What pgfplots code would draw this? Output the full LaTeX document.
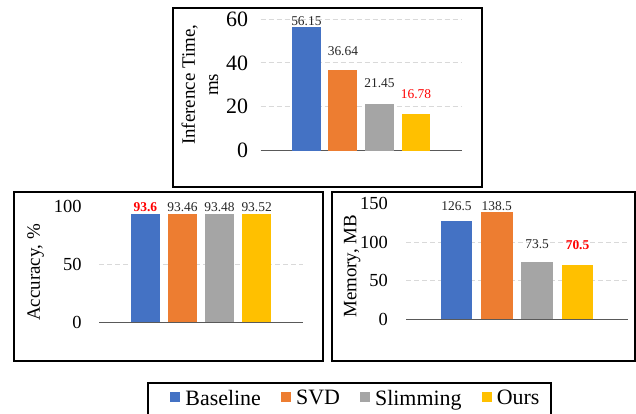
\documentclass[border=0pt]{standalone}
\usepackage{fontspec}
\setmainfont{Liberation Serif}
\usepackage{pgfplots}
\pgfplotsset{compat=1.18}

\definecolor{cBase}{HTML}{4472C4}
\definecolor{cSVD}{HTML}{ED7D31}
\definecolor{cSlim}{HTML}{A5A5A5}
\definecolor{cOurs}{HTML}{FFC000}
\definecolor{gridgray}{HTML}{D9D9D9}
\definecolor{axisgray}{HTML}{595959}
\definecolor{lblgray}{HTML}{262626}
\definecolor{hilite}{HTML}{FF0000}

\pgfplotsset{
  panel/.style={
    scale only axis,
    ybar, bar width=0.79, bar shift=0pt,
    xmin=-1.25, xmax=4.25, ymin=0,
    xtick=\empty,
    axis x line=bottom, axis y line=left,
    x axis line style={-, draw=axisgray, line width=1bp},
    y axis line style={draw=none},
    major tick length=0pt,
    ymajorgrids,
    grid style={dash pattern=on 5bp off 3bp, draw=gridgray, line width=0.9bp},
    /pgf/number format/assume math mode=true,
    yticklabel style={inner sep=0pt, anchor=east},
    ylabel style={anchor=center, font=\fontsize{19}{23.3}\selectfont},
    nodes near coords,
    every node near coord/.append style={font=\fontsize{13.5}{16}\selectfont, text=lblgray, anchor=base},
    clip=false,
  },
  lift/.style={every node near coord/.append style={yshift=#1}},
  redlbl/.style={every node near coord/.append style={text=hilite}},
  redbold/.style={every node near coord/.append style={text=hilite, font=\fontsize{13.5}{16}\selectfont\bfseries}},
}

\begin{document}
\begin{tikzpicture}
\useasboundingbox (0,0) rectangle (636bp,414bp);

% Inference time
\begin{axis}[panel, at={(260.7bp,263.3bp)}, anchor=south west,
  width=201bp, height=131.7bp, ymax=60, ytick={0,20,40,60},
  yticklabel style={xshift=-12.4bp, font=\fontsize{22}{24}\selectfont},
  ylabel={Inference Time,\\ms}, ylabel style={align=center, at={(axis description cs:-0.302,0.5)}}]
\addplot[fill=cBase, draw=none, lift=1.5bp] coordinates {(0,56.15)};
\addplot[fill=cSVD, draw=none, lift=14.6bp] coordinates {(1,36.64)};
\addplot[fill=cSlim, draw=none, lift=16.3bp] coordinates {(2,21.45)};
\addplot[fill=cOurs, draw=none, lift=14.9bp, redlbl] coordinates {(3,16.78)};
\end{axis}

% Accuracy
\begin{axis}[panel, at={(99bp,91.7bp)}, anchor=south west,
  width=204bp, height=115.6bp, ymax=100, ytick={0,50},
  extra y ticks={100}, extra y tick style={grid=none},
  yticklabel style={xshift=-17.3bp, font=\fontsize{18.5}{20}\selectfont},
  ylabel={Accuracy, \%}, ylabel style={at={(axis description cs:-0.311,0.431)}}]
\addplot[fill=cBase, draw=none, lift=3.0bp, redbold] coordinates {(0,93.6)};
\addplot[fill=cSVD, draw=none, lift=3.2bp] coordinates {(1,93.46)};
\addplot[fill=cSlim, draw=none, lift=3.2bp] coordinates {(2,93.48)};
\addplot[fill=cOurs, draw=none, lift=3.1bp] coordinates {(3,93.52)};
\end{axis}

% Memory
\begin{axis}[panel, at={(406bp,94.7bp)}, anchor=south west,
  width=222bp, height=116bp, ymax=150, ytick={0,50,100},
  extra y ticks={150}, extra y tick style={grid=none},
  yticklabel style={xshift=-18bp, font=\fontsize{18.5}{20}\selectfont},
  ylabel={Memory, MB}, ylabel style={at={(axis description cs:-0.242,0.457)}}]
\addplot[fill=cBase, draw=none, lift=10.8bp] coordinates {(0,126.5)};
\addplot[fill=cSVD, draw=none, lift=1.5bp] coordinates {(1,138.5)};
\addplot[fill=cSlim, draw=none, lift=14.2bp] coordinates {(2,73.5)};
\addplot[fill=cOurs, draw=none, lift=15.3bp, redbold] coordinates {(3,70.5)};
\end{axis}

% Shared legend (its frame runs past the lower page edge)
\begin{axis}[hide axis, scale only axis, width=10bp, height=10bp,
  xmin=0, xmax=1, ymin=0, ymax=1,
  at={(148.3bp,30.7bp)}, anchor=south west,
  legend columns=4,
  legend style={at={(0,0)}, anchor=north west, draw=none,
    inner xsep=12bp, inner ysep=6.5bp,
    font=\fontsize{22}{24}\selectfont,
    nodes={inner sep=0pt},
    /tikz/every odd column/.append style={column sep=5.2bp},
    /tikz/every even column/.append style={column sep=20bp}}]
\addlegendimage{legend image code/.code={\path[draw=none, fill=none] (-9.7bp,0bp) rectangle (0bp,1bp); \fill[cBase, draw=none] (0bp,-3.8bp) rectangle (10bp,6.2bp);}}
\addlegendentry{Baseline}
\addlegendimage{legend image code/.code={\fill[cSVD, draw=none] (0bp,-3.8bp) rectangle (10bp,6.2bp);}}
\addlegendentry{SVD}
\addlegendimage{legend image code/.code={\fill[cSlim, draw=none] (0bp,-3.8bp) rectangle (10bp,6.2bp);}}
\addlegendentry{Slimming}
\addlegendimage{legend image code/.code={\fill[cOurs, draw=none] (0bp,-3.8bp) rectangle (10bp,6.2bp);}}
\addlegendentry{Ours}
\end{axis}
\draw[line width=1.8bp] (148.3bp,30.7bp) rectangle (550.7bp,-20bp);

% Panel frames
\draw[line width=2bp] (172.7bp,405.7bp) rectangle (481.5bp,226.5bp);
\draw[line width=2bp] (14bp,221.5bp) rectangle (323.3bp,53.3bp);
\draw[line width=2bp] (332.3bp,221.5bp) rectangle (635bp,53.3bp);
\end{tikzpicture}
\end{document}
